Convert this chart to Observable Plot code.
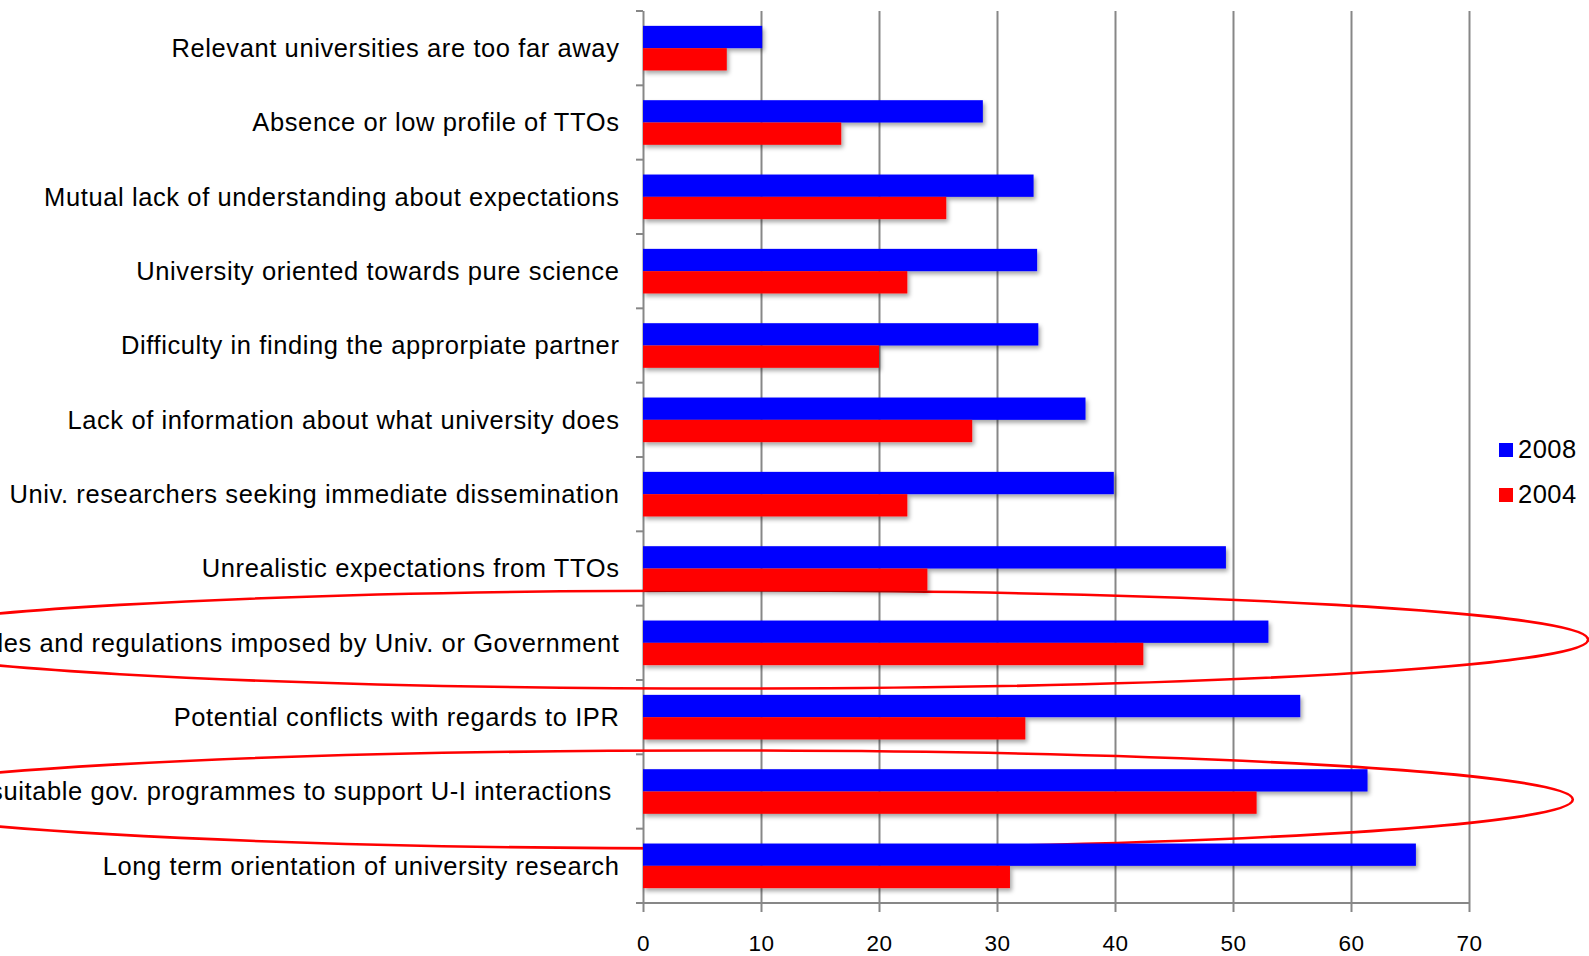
<!DOCTYPE html>
<html>
<head>
<meta charset="utf-8">
<script src="https://cdn.jsdelivr.net/npm/d3@7"></script>
<script src="https://cdn.jsdelivr.net/npm/@observablehq/plot@0.6"></script>
<style>
  html, body { margin: 0; padding: 0; background: #fff; }
  #chart { position: relative; width: 1589px; height: 956px; overflow: hidden; }
  #chart svg { display: block; }
  .key { position: absolute; left: 1499px; font-family: "Liberation Sans", Arial, sans-serif;
         font-size: 25.5px; letter-spacing: 0.45px; color: #000; display: flex; align-items: center;
         height: 25px; line-height: 25px; }
  .key span.sw { display: inline-block; width: 14px; height: 14px; margin-right: 5px; }
</style>
</head>
<body>
<div id="chart"></div>
<script>
// Obstacles to university–industry interaction, share of firms (%)
const categories = [
  "Relevant universities are too far away",
  "Absence or low profile of TTOs",
  "Mutual lack of understanding about expectations",
  "University oriented towards pure science",
  "Difficulty in finding the approrpiate partner",
  "Lack of information about what university does",
  "Univ. researchers seeking immediate dissemination",
  "Unrealistic expectations from TTOs",
  "Rules and regulations imposed by Univ. or Government",
  "Potential conflicts with regards to IPR",
  "Lack of suitable gov. programmes to support U-I interactions\u00a0",
  "Long term orientation of university research"
];
const values2008 = [10.1, 28.8, 33.1, 33.4, 33.5, 37.5, 39.9, 49.4, 53.0, 55.7, 61.4, 65.5];
const values2004 = [7.1, 16.8, 25.7, 22.4, 20.0, 27.9, 22.4, 24.1, 42.4, 32.4, 52.0, 31.1];
const years = ["2008", "2004"];
const xTicks = [0, 10, 20, 30, 40, 50, 60, 70];

// Categories circled by hand-drawn red rings
const circled = [categories[8], categories[10]];

const rows = categories.flatMap((category, i) => [
  {category, year: "2008", value: values2008[i]},
  {category, year: "2004", value: values2004[i]}
]);

// Layout
const W = 1589, H = 956;
const mTop = 11, mBottom = 53, mLeft = 643, mRight = 120;
const bandPad = 0.4;
const step = (H - mTop - mBottom) / categories.length;
const halfBand = step * (1 - bandPad) / 2;
const axisGrey = "#878787";

// Ring geometry, in x-data units (centre, half-length) and pixels (vertical offset, half-height)
const ringShapes = [
  {centre: 7.2, reach: 72.9, shift: -3.3, half: 49},
  {centre: 6.1, reach: 72.7, shift: 8, half: 49}
];

function ringsMark(index, {x, y}) {
  const g = d3.create("svg:g")
    .attr("fill", "none")
    .attr("stroke", "#ff0000")
    .attr("stroke-width", 2.6);
  g.selectAll("ellipse")
    .data(circled.map((category, i) => ({category, ...ringShapes[i]})))
    .join("ellipse")
      .attr("cx", d => x(d.centre))
      .attr("cy", d => y(d.category) + y.bandwidth() / 2 + d.shift)
      .attr("rx", d => x(d.centre + d.reach) - x(d.centre))
      .attr("ry", d => d.half);
  return g.node();
}

// Category tick marks sit on the band boundaries, plus the baseline of the value axis
function frameMark(index, {x, y}) {
  const off = (y.step() - y.bandwidth()) / 2;
  const bounds = categories.map(c => y(c) - off);
  const last = y(categories[categories.length - 1]) + y.bandwidth() + off;
  bounds.push(last);
  const g = d3.create("svg:g")
    .attr("stroke", axisGrey)
    .attr("stroke-width", 2);
  g.selectAll("line.t")
    .data(bounds)
    .join("line")
      .attr("class", "t")
      .attr("x1", x(0) - 7).attr("x2", x(0))
      .attr("y1", d => d).attr("y2", d => d);
  g.append("line")
    .attr("x1", x(0) - 7).attr("x2", x(xTicks[xTicks.length - 1]))
    .attr("y1", last).attr("y2", last);
  return g.node();
}

const plot = Plot.plot({
  width: W,
  height: H,
  marginTop: mTop,
  marginBottom: mBottom,
  marginLeft: mLeft,
  marginRight: mRight,
  style: {
    fontFamily: "'Liberation Sans', Arial, sans-serif",
    fontSize: "25.5px",
    letterSpacing: "0.6px",
    color: "#000",
    background: "transparent"
  },
  x: {domain: [0, 70], ticks: xTicks},
  y: {domain: categories, paddingInner: bandPad, paddingOuter: bandPad / 2, round: false, label: null},
  color: {domain: years, range: ["#0000ff", "#ff0000"]},
  marks: [
    Plot.ruleX(xTicks, {stroke: axisGrey, strokeWidth: 2}),
    ringsMark,
    Plot.barX(rows.filter(d => d.year === "2008"), {x: "value", y: "category", fill: "year", insetBottom: halfBand}),
    Plot.barX(rows.filter(d => d.year === "2004"), {x: "value", y: "category", fill: "year", insetTop: halfBand}),
    frameMark,
    Plot.axisX({ticks: xTicks, tickSize: 9, tickPadding: 23, stroke: axisGrey, strokeWidth: 2,
                fill: "#000", fontSize: 22.5, label: null}),
    Plot.axisY({tickSize: 0, tickPadding: 24, label: null})
  ]
});

// Soft drop shadow under the bars
const svg = d3.select(plot);
const filter = svg.insert("defs", ":first-child")
  .append("filter")
    .attr("id", "bar-shadow")
    .attr("x", "-5%").attr("y", "-20%")
    .attr("width", "115%").attr("height", "160%");
filter.append("feDropShadow")
  .attr("dx", 2).attr("dy", 3)
  .attr("stdDeviation", 2.2)
  .attr("flood-color", "#000")
  .attr("flood-opacity", 0.35);
svg.selectAll("g[aria-label=bar]").attr("filter", "url(#bar-shadow)");

const chart = document.getElementById("chart");
chart.appendChild(plot);

// Legend
const colour = plot.scale("color");
years.forEach((year, i) => {
  const item = d3.select(chart).append("div")
    .attr("class", "key")
    .style("top", `${437 + i * 45}px`);
  item.append("span").attr("class", "sw")
    .style("background", colour.range[colour.domain.indexOf(year)]);
  item.append("span").text(year);
});
</script>
</body>
</html>
